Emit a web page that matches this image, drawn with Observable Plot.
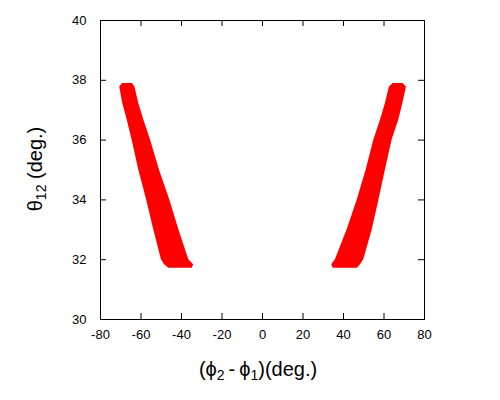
<!DOCTYPE html>
<html>
<head>
<meta charset="utf-8">
<script src="https://cdn.jsdelivr.net/npm/d3@7"></script>
<script src="https://cdn.jsdelivr.net/npm/@observablehq/plot@0.6"></script>
<style>
  html, body { margin: 0; padding: 0; background: #fff; }
  #chart { width: 500px; height: 400px; }
</style>
</head>
<body>
<div id="chart"></div>
<script>
// theta12 sample values (deg.)
const theta = [31.71, 31.83, 32, 33, 34, 35, 36, 36.67, 37.22, 37.78, 37.89];
// left band: (phi2 - phi1) lower/upper boundaries
const leftLo  = [-46.3, -48.4, -49.9, -53.7, -57.2, -61.1, -64.4, -66.8, -69.0, -70.5, -69.1];
const leftHi  = [-34.7, -34.0, -36.4, -41.3, -45.8, -50.9, -55.3, -58.6, -61.1, -63.0, -64.2];
// right band: (phi2 - phi1) lower/upper boundaries
const rightLo = [34.9, 34.2, 36.0, 41.8, 46.8, 51.2, 55.0, 58.3, 60.7, 62.7, 64.5];
const rightHi = [46.8, 48.4, 50.0, 54.2, 57.5, 60.7, 64.0, 67.3, 69.3, 71.1, 69.4];

const xTicks = [-80, -60, -40, -20, 0, 20, 40, 60, 80];
const yTicks = [30, 32, 34, 36, 38, 40];

const leftBand = theta.map((t, i) => ({theta: t, lo: leftLo[i], hi: leftHi[i]}));
const rightBand = theta.map((t, i) => ({theta: t, lo: rightLo[i], hi: rightHi[i]}));

const W = 500, H = 400;
const mt = 20, mb = 81, ml = 100, mr = 76;
const innerH = H - mt - mb;
const innerW = W - ml - mr;
const tl = 6;

const chart = Plot.plot({
  width: W,
  height: H,
  marginTop: mt,
  marginBottom: mb,
  marginLeft: ml,
  marginRight: mr,
  style: {fontFamily: "'Liberation Sans', Arial, sans-serif", fontSize: "13px", background: "#fff", color: "#000"},
  x: {domain: [-80, 80]},
  y: {domain: [30, 40]},
  marks: [
    Plot.areaX(leftBand, {y: "theta", x1: "lo", x2: "hi", fill: "#ff0000", curve: "linear"}),
    Plot.areaX(rightBand, {y: "theta", x1: "lo", x2: "hi", fill: "#ff0000", curve: "linear"}),
    Plot.tickX(xTicks, {x: d => d, stroke: "#000", insetTop: innerH - tl}),
    Plot.tickX(xTicks, {x: d => d, stroke: "#000", insetBottom: innerH - tl}),
    Plot.tickY(yTicks, {y: d => d, stroke: "#000", insetRight: innerW - tl}),
    Plot.tickY(yTicks, {y: d => d, stroke: "#000", insetLeft: innerW - tl}),
    Plot.frame({stroke: "#000", strokeWidth: 1}),
    Plot.axisX({ticks: xTicks, tickSize: 0, tickPadding: 10, label: null, fontSize: 13, tickFormat: d => String(d)}),
    Plot.axisY({ticks: yTicks, tickSize: 0, tickPadding: 14, label: null, fontSize: 13, tickFormat: d => String(d)})
  ]
});

document.getElementById("chart").appendChild(chart);

const svg = d3.select(chart);
const fam = "'Liberation Sans', Arial, sans-serif";

// x axis title: (ϕ2-ϕ1)(deg.)
const xt = svg.append("text")
  .attr("x", 258).attr("y", 376)
  .attr("text-anchor", "middle")
  .attr("font-family", fam).attr("font-size", 20).attr("fill", "#000");
xt.append("tspan").text("(\u03D5");
xt.append("tspan").attr("font-size", 14).attr("dy", 4).text("2");
xt.append("tspan").attr("dy", -4).text("\u2009-\u2009\u03D5");
xt.append("tspan").attr("font-size", 14).attr("dy", 4).text("1");
xt.append("tspan").attr("dy", -4).text(")(deg.)");

// y axis title: θ12 (deg.)
const yt = svg.append("text")
  .attr("transform", "translate(42,169) rotate(-90)")
  .attr("text-anchor", "middle")
  .attr("font-family", fam).attr("font-size", 20).attr("fill", "#000");
yt.append("tspan").text("\u03B8");
yt.append("tspan").attr("font-size", 14).attr("dy", 4).text("12");
yt.append("tspan").attr("dy", -4).text(" (deg.)");
</script>
</body>
</html>
